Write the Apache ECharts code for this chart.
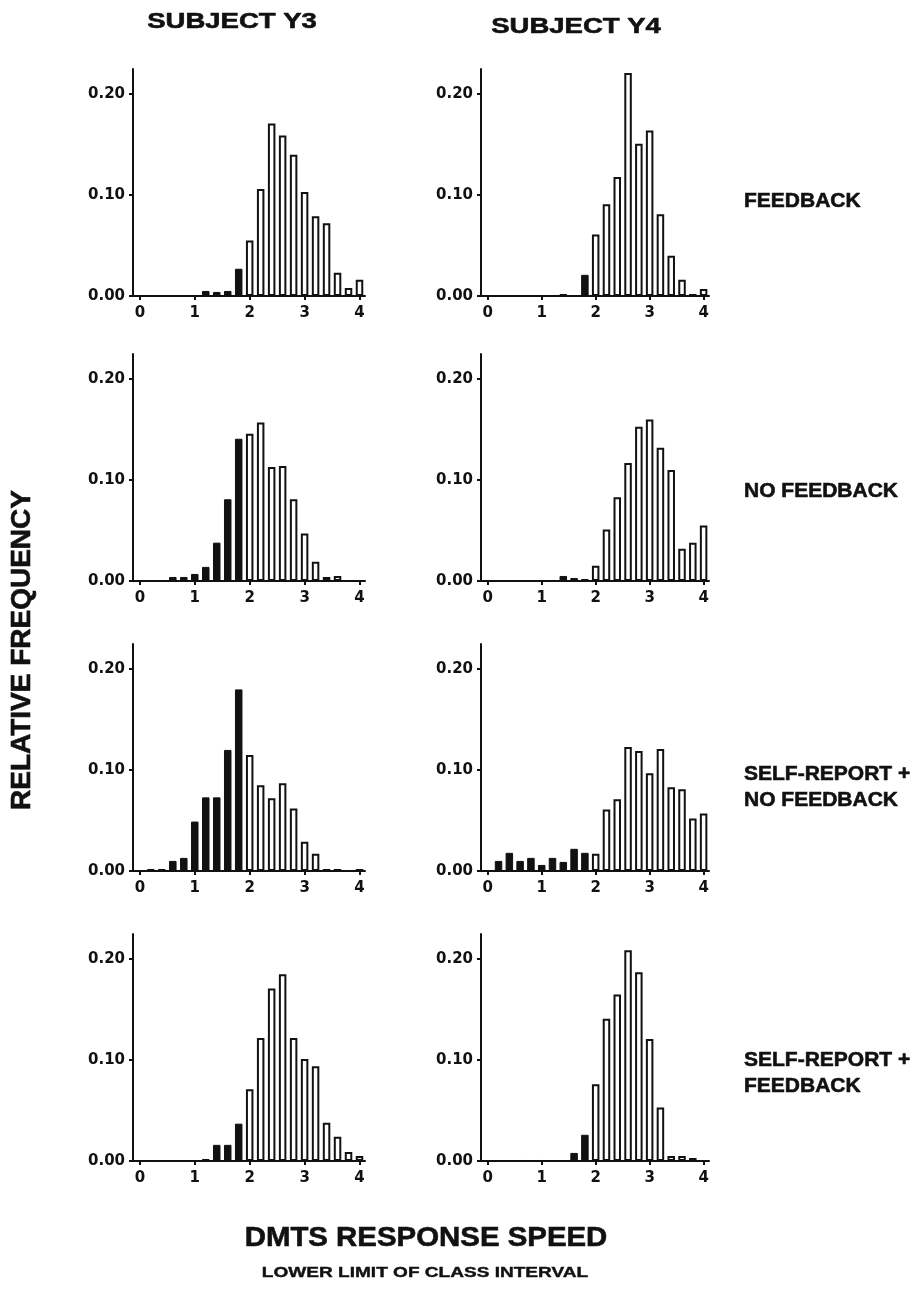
<!DOCTYPE html>
<html>
<head>
<meta charset="utf-8">
<title>DMTS response speed histograms</title>
<script src="https://cdn.jsdelivr.net/npm/echarts@6/dist/echarts.min.js"></script>
<style>
  html, body { margin: 0; padding: 0; background: #fff; }
  #chart { width: 921px; height: 1289px; }
</style>
</head>
<body>
<div id="chart"></div>
<script>
// lower limit of each class interval (0.2 wide)
const binLower = [0, 0.2, 0.4, 0.6, 0.8, 1.0, 1.2, 1.4, 1.6, 1.8, 2.0,
  2.2, 2.4, 2.6, 2.8, 3.0, 3.2, 3.4, 3.6, 3.8, 4.0];
const xTicks = [0, 1, 2, 3, 4];
const yTicks = [0, 0.1, 0.2];
// bins below this speed are drawn solid
const slowLimit = 2.0;

const subjects = ["SUBJECT Y3", "SUBJECT Y4"];
const conditions = [
  ["FEEDBACK"],
  ["NO FEEDBACK"],
  ["SELF-REPORT +", "NO FEEDBACK"],
  ["SELF-REPORT +", "FEEDBACK"],
];

const y3Feedback = [0, 0, 0, 0, 0, 0.001, 0.005, 0.004, 0.005, 0.027, 0.055,
  0.106, 0.171, 0.159, 0.140, 0.103, 0.079, 0.072, 0.023, 0.008, 0.016];
const y4Feedback = [0, 0, 0, 0, 0, 0, 0, 0.002, 0, 0.021, 0.061,
  0.091, 0.118, 0.221, 0.151, 0.164, 0.081, 0.040, 0.016, 0.002, 0.007];
const y3NoFeedback = [0, 0, 0, 0.004, 0.004, 0.007, 0.014, 0.038, 0.081, 0.141, 0.146,
  0.157, 0.113, 0.114, 0.081, 0.047, 0.019, 0.004, 0.005, 0, 0];
const y4NoFeedback = [0, 0.001, 0, 0.001, 0, 0.001, 0.001, 0.005, 0.003, 0.002, 0.015,
  0.051, 0.083, 0.117, 0.153, 0.160, 0.132, 0.110, 0.032, 0.038, 0.055];
const y3SelfNoFeedback = [0, 0.002, 0.002, 0.010, 0.013, 0.049, 0.073, 0.073, 0.120, 0.180, 0.115,
  0.085, 0.072, 0.087, 0.062, 0.029, 0.017, 0.002, 0.002, 0, 0.002];
const y4SelfNoFeedback = [0, 0.010, 0.018, 0.010, 0.013, 0.006, 0.013, 0.009, 0.022, 0.018, 0.017,
  0.061, 0.071, 0.123, 0.119, 0.097, 0.121, 0.083, 0.081, 0.052, 0.057];
const y3SelfFeedback = [0, 0, 0, 0, 0, 0, 0.002, 0.016, 0.016, 0.037, 0.071,
  0.122, 0.171, 0.185, 0.122, 0.101, 0.094, 0.038, 0.024, 0.009, 0.005];
const y4SelfFeedback = [0, 0, 0, 0.001, 0, 0.001, 0, 0, 0.008, 0.026, 0.076,
  0.141, 0.165, 0.209, 0.187, 0.121, 0.053, 0.005, 0.005, 0.003, 0];

// rows = conditions, columns = subjects
const panels = [
  [y3Feedback, y4Feedback],
  [y3NoFeedback, y4NoFeedback],
  [y3SelfNoFeedback, y4SelfNoFeedback],
  [y3SelfFeedback, y4SelfFeedback],
];

// layout
const colLeft = [133, 481];
const colWidth = [232, 228];
const rowZero = [296, 581, 871, 1161];
const plotHeight = 227;
const X_MIN = -0.125, X_MAX = 4.1, Y_MAX = 0.225;
const INK = "#111";
const FONT = "'Liberation Sans', Arial, sans-serif";
const TICK_FONT = "'DejaVu Sans', sans-serif";

const grids = [], xAxes = [], yAxes = [], series = [];

panels.forEach((row, r) => {
  row.forEach((values, c) => {
    const idx = grids.length;
    grids.push({
      left: colLeft[c],
      top: rowZero[r] - plotHeight,
      width: colWidth[c],
      height: plotHeight,
    });
    xAxes.push({
      gridIndex: idx,
      type: "value",
      min: X_MIN,
      max: X_MAX,
      axisLine: { onZero: false, lineStyle: { color: INK, width: 2 } },
      axisTick: { customValues: xTicks, length: 4, lineStyle: { color: INK, width: 2 } },
      axisLabel: {
        customValues: xTicks,
        margin: 10,
        color: INK,
        fontFamily: TICK_FONT,
        fontWeight: "bold",
        fontSize: 15,
      },
      splitLine: { show: false },
    });
    yAxes.push({
      gridIndex: idx,
      type: "value",
      min: 0,
      max: Y_MAX,
      axisLine: { show: true, onZero: false, lineStyle: { color: INK, width: 2 } },
      axisTick: { show: true, customValues: yTicks, length: 4, lineStyle: { color: INK, width: 2 } },
      axisLabel: {
        customValues: yTicks,
        formatter: (v) => v.toFixed(2),
        margin: 8,
        color: INK,
        fontFamily: TICK_FONT,
        fontWeight: "bold",
        fontSize: 15,
      },
      splitLine: { show: false },
    });
    const solid = [], hollow = [];
    binLower.forEach((x, i) => {
      (x < slowLimit ? solid : hollow).push([x, values[i]]);
    });
    series.push({
      type: "bar",
      xAxisIndex: idx,
      yAxisIndex: idx,
      barWidth: 7.5,
      barGap: "-100%",
      data: solid,
      itemStyle: { color: INK, borderColor: INK, borderWidth: 1 },
      silent: true,
    });
    series.push({
      type: "bar",
      xAxisIndex: idx,
      yAxisIndex: idx,
      barWidth: 7.5,
      barGap: "-100%",
      data: hollow,
      itemStyle: { color: "#fff", borderColor: INK, borderWidth: 2 },
      silent: true,
    });
  });
});

function label(text, x, y, size, opts = {}) {
  return Object.assign({
    type: "text",
    x: x,
    y: y,
    style: {
      text: text,
      font: "bold " + size + "px " + FONT,
      fill: INK,
      stroke: INK,
      lineWidth: opts.weight || 0.6,
      textAlign: opts.align || "center",
      textVerticalAlign: "middle",
    },
  }, opts.extra || {});
}

const graphics = [];
graphics.push(label(subjects[0], 232, 22, 22, { extra: { scaleX: 1.25 } }));
graphics.push(label(subjects[1], 576, 27, 22, { extra: { scaleX: 1.25 } }));

const conditionY = [201, 491, 787, 1073];
conditions.forEach((lines, r) => {
  const lh = 26;
  const y0 = conditionY[r] - (lines.length - 1) * lh / 2;
  lines.forEach((t, k) => {
    graphics.push(label(t, 744, y0 + k * lh, 21, { align: "left" }));
  });
});

graphics.push(label("RELATIVE FREQUENCY", 22, 650, 28, { extra: { rotation: Math.PI / 2 } }));
graphics.push(label("DMTS RESPONSE SPEED", 426, 1238, 28, { extra: { scaleX: 1.05 } }));
graphics.push(label("LOWER LIMIT OF CLASS INTERVAL", 425, 1273, 15, { weight: 0.4, extra: { scaleX: 1.27 } }));

const chart = echarts.init(document.getElementById("chart"), null, { renderer: "canvas" });
chart.setOption({
  animation: false,
  backgroundColor: "#fff",
  grid: grids,
  xAxis: xAxes,
  yAxis: yAxes,
  series: series,
  graphic: graphics,
});
</script>
</body>
</html>
